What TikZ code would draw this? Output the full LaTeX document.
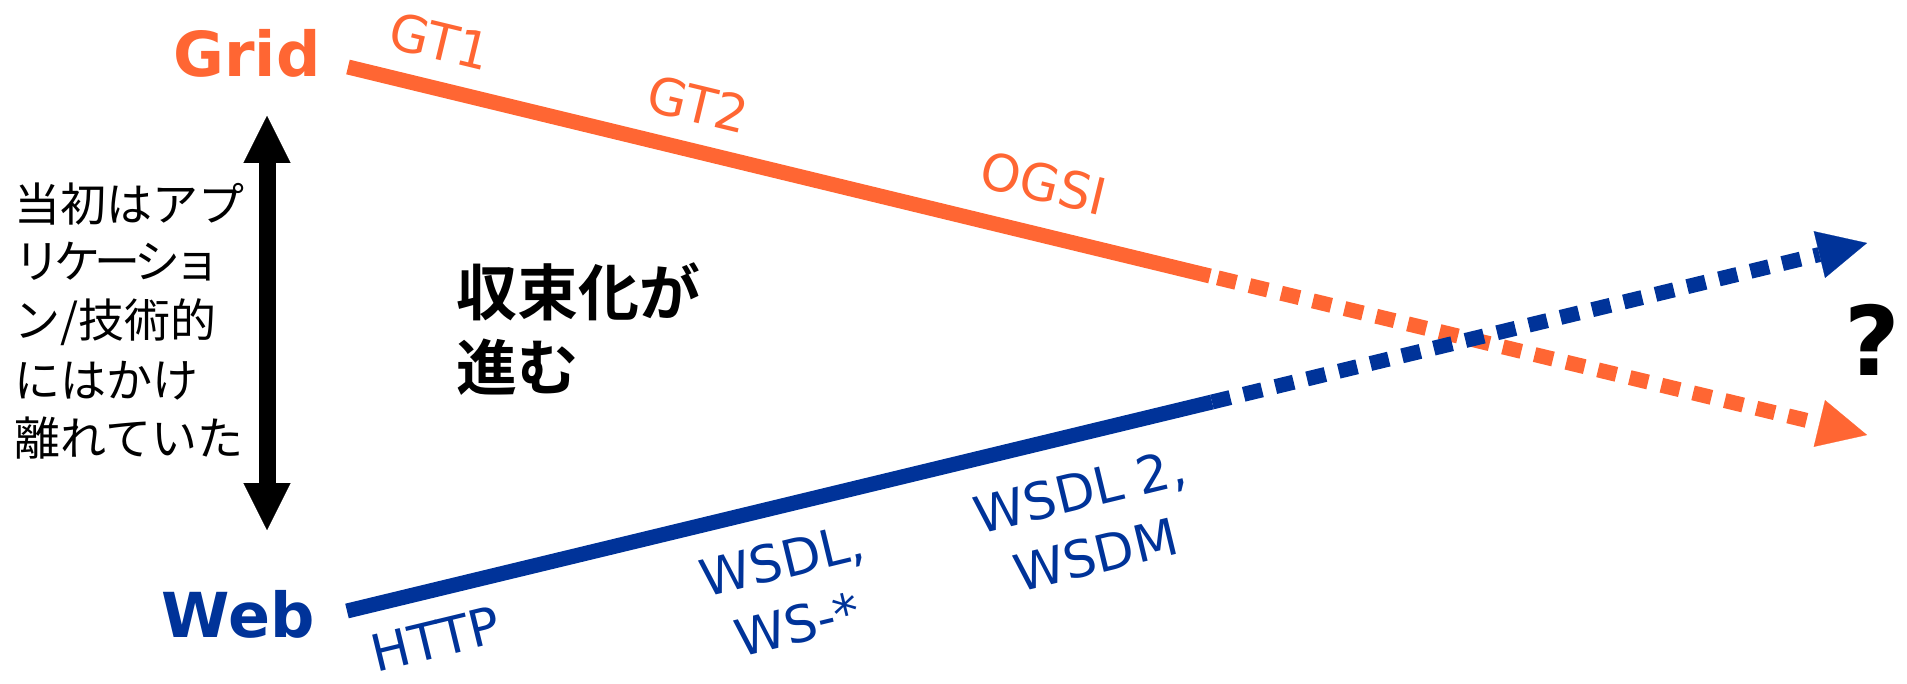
\documentclass[tikz,border=0pt]{standalone}
\usepackage{fontspec}
\setmainfont{DejaVu Sans}
\newfontfamily\jp{Noto Sans CJK JP}[BoldFont={Noto Sans CJK JP Bold}]
\usetikzlibrary{arrows.meta}
\definecolor{gridc}{HTML}{FF6633}
\definecolor{webc}{HTML}{003399}
\tikzset{
  biglabel/.style={font=\bfseries\fontsize{31}{37}\selectfont, inner sep=0pt},
  tech/.style={font=\fontsize{25.5}{33}\selectfont, align=center, inner sep=0pt},
  jpline/.style={font=\jp\fontsize{23}{29}\selectfont, inner sep=0pt, anchor=base west},
  jpbig/.style={font=\jp\bfseries\fontsize{30.5}{38}\selectfont, inner sep=0pt, anchor=base west},
  solidline/.style={line width=7.5pt},
  dashline/.style={line width=7.5pt, dash pattern=on 9.45pt off 6.85pt,
     -{Triangle[length=24.5pt,width=24pt,line width=0.1pt]}},
  sepline/.style={line width=8.5pt,
     {Triangle[length=23.5pt,width=23.5pt,line width=0.1pt]}-{Triangle[length=23.5pt,width=23.5pt,line width=0.1pt]}}
}
\begin{document}
\begin{tikzpicture}[x=0.5pt,y=-0.5pt]
\useasboundingbox (0,0) rectangle (1907,684);
% anchors of the two lines
\coordinate (gridstart) at (348,67);
\coordinate (gridmid) at (1210,276);
\coordinate (gridtip) at (1867,435);
\coordinate (webstart) at (347,611);
\coordinate (webmid) at (1212,402);
\coordinate (webtip) at (1867,243);
\coordinate (septop) at (267,116);
\coordinate (sepbot) at (267,530);

% labels
\node[biglabel, text=gridc, anchor=base east] (grid) at (321,77) {Grid};
\node[biglabel, text=webc, anchor=base east] (web) at (315,637) {Web};

\node[tech, text=gridc, rotate=-13.6] (gt1) at (440,41) {GT1};
\node[tech, text=gridc, rotate=-13.6] (gt2) at (698,104) {GT2};
\node[tech, text=gridc, rotate=-13.6] (ogsi) at (1044,183) {OGSI};
\node[tech, text=webc, rotate=13.6] (http) at (436,639) {HTTP};
\node[tech, text=webc, rotate=13.6] (wsdl) at (790,592) {WSDL,\\WS-*};
\node[tech, text=webc, rotate=13.6] (wsdl2) at (1088,523) {WSDL 2,\\WSDM};

% left explanation
\node[jpline] (j1) at (14,222) {当初はアプ};
\node[jpline] (j2) at (14,279) {リ\kern-3ptケ\kern-3ptー\kern-3ptシ\kern-3ptョ};
\node[jpline] (j3) at (14,338) {ン/技術的};
\node[jpline] (j4) at (14,397) {にはかけ};
\node[jpline] (j5) at (14,455) {離れていた};

\node[jpbig] (c1) at (456,315) {収束化が};
\node[jpbig] (c2) at (456,391) {進む};

\node[font=\bfseries\fontsize{48}{56}\selectfont, inner sep=0pt] (q) at (1872,340) {?};

% lines
\draw[sepline, black] (septop) -- (sepbot);
\draw[solidline, gridc] (gridstart) -- (gridmid);
\draw[dashline, gridc, dash phase=12.3pt] (gridmid) -- (gridtip);
\draw[solidline, webc] (webstart) -- (webmid);
\draw[dashline, webc] (webmid) -- (webtip);
\end{tikzpicture}
\end{document}
